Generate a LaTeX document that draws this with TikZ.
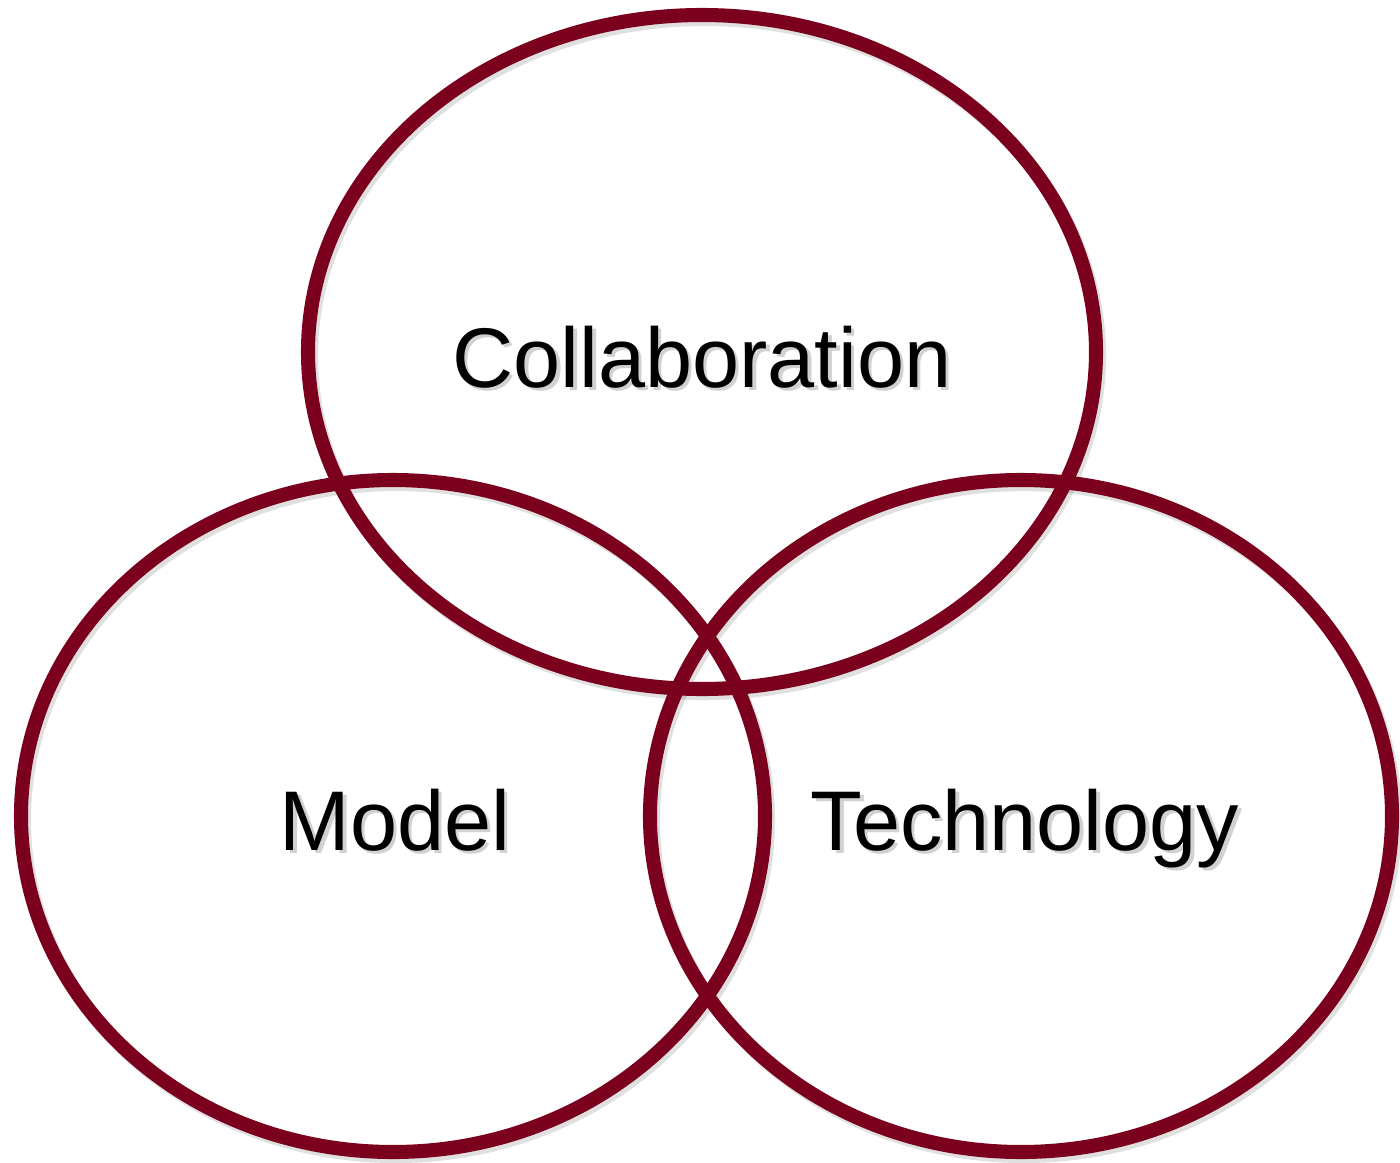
\documentclass[tikz,border=0pt]{standalone}
\usepackage{fontspec}
\setmainfont{Liberation Sans}
\definecolor{ringred}{RGB}{122,0,30}
\tikzset{
  ring/.style={draw=ringred, line width=4pt},
  ringshadow/.style={draw=black, line width=4pt, opacity=0.12},
  word/.style={font=\fontsize{24.1}{28}\selectfont, anchor=base, inner sep=0pt},
  wordshadow/.style={word, text=black!40, opacity=0.45}
}
\begin{document}
\begin{tikzpicture}
\useasboundingbox (0,0) rectangle (14,11.62);
% shadows
\draw[ringshadow] (7.05,8.06) ellipse [x radius=3.94, y radius=3.37];
\draw[ringshadow] (3.96,3.42) ellipse [x radius=3.72, y radius=3.36];
\draw[ringshadow] (10.24,3.42) ellipse [x radius=3.71, y radius=3.36];
% rings
\draw[ring] (7.02,8.10) ellipse [x radius=3.94, y radius=3.37];
\draw[ring] (3.93,3.46) ellipse [x radius=3.72, y radius=3.36];
\draw[ring] (10.21,3.46) ellipse [x radius=3.71, y radius=3.36];
% labels
\node[wordshadow] (collabS) at (7.055,7.715) {Collaboration};
\node[wordshadow] (modelS) at (3.985,3.085) {Model};
\node[wordshadow] (techS) at (10.285,3.085) {Technology};
\node[word] (collab) at (7.02,7.75) {Collaboration};
\node[word] (model) at (3.95,3.12) {Model};
\node[word] (tech) at (10.25,3.12) {Technology};
\end{tikzpicture}
\end{document}
